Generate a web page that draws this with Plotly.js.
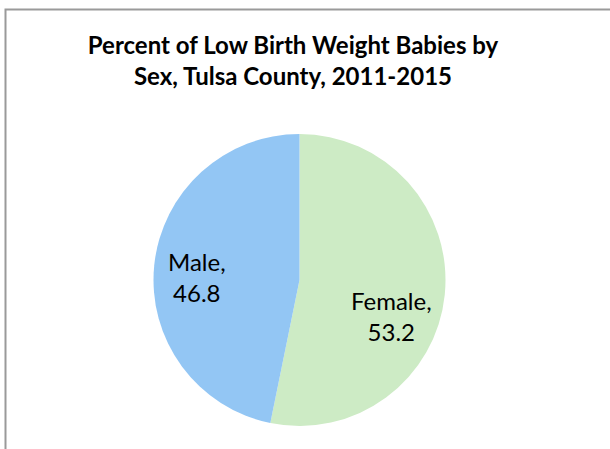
<!DOCTYPE html>
<html>
<head>
<meta charset="utf-8">
<script src="https://cdn.plot.ly/plotly-3.0.1.min.js"></script>
<style>html,body{margin:0;padding:0;background:#fff;}#chart{width:610px;height:449px;}</style>
</head>
<body>
<div id="chart"></div>
<script>
const categories = ["Female", "Male"];
const values = [53.2, 46.8];
const colors = ["#CDEBC5", "#93C6F4"];
const titleText = "Percent of Low Birth Weight Babies by<br>Sex, Tulsa County, 2011-2015";

const W = 610, H = 449;
const cx = 299.5, cy = 280, r = 146;
// label block centres (px) for each slice, as placed in the reference
const labelPos = [[391, 316], [197, 277]];

const trace = {
  type: "pie",
  labels: categories,
  values: values,
  sort: false,
  direction: "clockwise",
  rotation: 0,
  marker: {colors: colors, line: {width: 0}},
  textinfo: "none",
  hoverinfo: "none",
  showlegend: false,
  domain: {x: [(cx - r) / W, (cx + r) / W], y: [(H - cy - r) / H, (H - cy + r) / H]}
};

const labelFont = {family: "Lato, 'Open Sans', sans-serif", size: 24, color: "#000"};
const annotations = categories.map((c, i) => ({
  text: c + ",<br>" + values[i].toFixed(1),
  xref: "paper", yref: "paper",
  x: labelPos[i][0] / W, y: 1 - labelPos[i][1] / H,
  xanchor: "center", yanchor: "middle",
  showarrow: false, align: "center",
  font: labelFont
}));

const layout = {
  width: W, height: H,
  margin: {l: 0, r: 0, t: 0, b: 0},
  paper_bgcolor: "#fff",
  title: {
    text: titleText,
    x: 293 / W, xanchor: "center", xref: "paper",
    y: 1 - 54 / H, yanchor: "top", yref: "paper",
    font: {family: "Lato, 'Open Sans', sans-serif", size: 24, color: "#000", weight: "bold"}
  },
  annotations: annotations,
  shapes: [{
    type: "rect", xref: "paper", yref: "paper",
    x0: 5.5 / W, x1: 1.05, y0: -0.05, y1: 1 - 9.5 / H,
    line: {color: "#9a9a9a", width: 2}, fillcolor: "rgba(0,0,0,0)"
  }]
};

Plotly.newPlot("chart", [trace], layout, {displayModeBar: false, staticPlot: true});
</script>
</body>
</html>
